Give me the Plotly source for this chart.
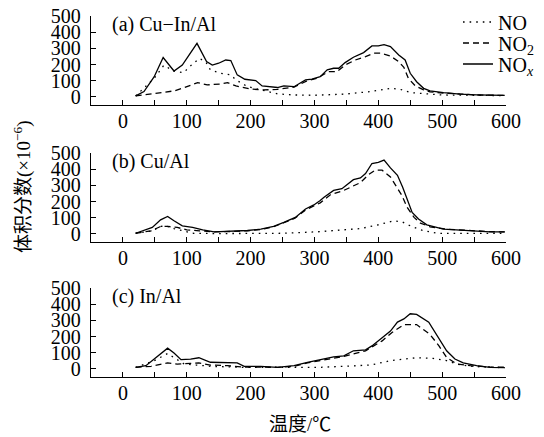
import plotly.graph_objects as go

# ---------------- data ----------------
# (a) Cu-In/Al
a_nox_t = [20, 33, 49, 63, 80, 93, 116, 131, 140, 150, 161, 169, 179, 191, 208, 218, 242, 252, 268, 286, 296, 309, 320, 330, 338, 348, 361, 377, 390, 400, 409, 419, 432, 442, 450, 460, 471, 481, 502, 528, 554, 598]
a_nox_v = [6, 33, 125, 243, 160, 197, 331, 218, 197, 208, 228, 225, 136, 109, 101, 68, 58, 68, 63, 105, 110, 125, 167, 177, 177, 212, 245, 274, 315, 315, 323, 311, 259, 228, 146, 94, 53, 37, 27, 17, 13, 10]
a_no2_t = [20, 44, 65, 80, 93, 117, 132, 153, 164, 177, 200, 221, 242, 268, 289, 304, 322, 335, 348, 364, 380, 393, 403, 419, 432, 440, 447, 458, 471, 481, 502, 528, 554, 598]
a_no2_v = [6, 19, 33, 37, 53, 88, 74, 80, 88, 68, 49, 43, 47, 60, 101, 115, 156, 156, 197, 228, 249, 270, 270, 253, 218, 183, 115, 68, 43, 31, 24, 16, 12, 9]
a_no_t = [20, 49, 64, 80, 95, 108, 120, 130, 137, 153, 169, 177, 195, 216, 242, 268, 299, 346, 388, 419, 434, 450, 471, 500, 550, 598]
a_no_v = [6, 115, 195, 160, 150, 200, 238, 215, 167, 146, 136, 105, 64, 43, 19, 12, 10, 17, 33, 53, 47, 27, 19, 12, 10, 8]

# (b) Cu/Al
b_nox_t = [20, 46, 59, 70, 80, 93, 109, 125, 143, 169, 195, 216, 236, 252, 270, 286, 299, 309, 315, 330, 343, 361, 372, 380, 390, 400, 409, 419, 430, 438, 445, 453, 463, 476, 502, 523, 544, 575, 598]
b_nox_v = [4, 40, 87, 108, 81, 50, 40, 25, 13, 17, 21, 29, 46, 71, 102, 154, 179, 206, 227, 269, 279, 335, 346, 373, 435, 442, 456, 408, 362, 290, 217, 133, 92, 56, 29, 25, 17, 13, 13]
b_no2_t = [20, 44, 59, 70, 85, 100, 120, 143, 169, 195, 216, 236, 252, 270, 286, 299, 309, 325, 346, 372, 385, 395, 406, 419, 427, 437, 445, 456, 466, 481, 507, 540, 575, 598]
b_no2_v = [4, 19, 46, 46, 40, 25, 19, 13, 15, 19, 27, 44, 69, 98, 148, 175, 192, 242, 269, 317, 367, 394, 394, 352, 300, 237, 165, 102, 67, 44, 29, 20, 14, 12]
b_no_t = [20, 46, 59, 67, 80, 93, 109, 150, 200, 250, 304, 346, 372, 398, 424, 437, 450, 466, 492, 530, 598]
b_no_v = [4, 19, 46, 50, 33, 19, 4, 2, 3, 4, 13, 25, 33, 54, 81, 75, 50, 25, 4, 3, 3]

# (c) In/Al
c_nox_t = [20, 36, 49, 70, 80, 91, 106, 119, 137, 158, 179, 190, 216, 242, 268, 289, 309, 330, 346, 361, 380, 390, 406, 419, 430, 440, 450, 460, 479, 495, 507, 520, 533, 554, 575, 598]
c_nox_v = [10, 20, 61, 128, 98, 57, 61, 69, 41, 37, 37, 16, 16, 10, 20, 41, 57, 75, 81, 112, 118, 142, 193, 234, 289, 309, 341, 337, 289, 183, 112, 61, 37, 20, 10, 8]
c_no2_t = [20, 44, 70, 85, 106, 119, 137, 164, 185, 216, 242, 268, 289, 309, 346, 380, 406, 421, 440, 460, 481, 495, 507, 523, 544, 575, 598]
c_no2_v = [10, 16, 37, 30, 34, 37, 24, 20, 12, 10, 10, 16, 37, 51, 77, 112, 173, 224, 274, 274, 213, 142, 71, 30, 20, 12, 10]
c_no_t = [20, 49, 70, 83, 96, 115, 137, 185, 250, 310, 346, 388, 419, 460, 486, 507, 523, 544, 575, 598]
c_no_v = [10, 51, 95, 61, 30, 24, 16, 10, 8, 10, 16, 24, 51, 69, 65, 51, 30, 16, 10, 8]

panel_labels = ["(a) Cu\u2212In/Al", "(b) Cu/Al", "(c) In/Al"]
series_names = ["NO", "NO<sub>2</sub>", "NO<sub><i>x</i></sub>"]
x_ticks = [0, 100, 200, 300, 400, 500, 600]
y_ticks = [0, 100, 200, 300, 400, 500]

panels = [
    [(a_no_t, a_no_v), (a_no2_t, a_no2_v), (a_nox_t, a_nox_v)],
    [(b_no_t, b_no_v), (b_no2_t, b_no2_v), (b_nox_t, b_nox_v)],
    [(c_no_t, c_no_v), (c_no2_t, c_no2_v), (c_nox_t, c_nox_v)],
]

SERIF = "Liberation Serif, Times New Roman, serif"
CJK = "Liberation Serif, Noto Sans CJK SC, serif"
dashes = ["1.6px,5px", "6px,4px", "solid"]
legend_ids = ["legend", "legend2", "legend3"]

fig = go.Figure()
for i, series in enumerate(panels):
    xa = "x" if i == 0 else f"x{i+1}"
    ya = "y" if i == 0 else f"y{i+1}"
    for j, (t, v) in enumerate(series):
        fig.add_trace(go.Scatter(
            x=t, y=v, mode="lines", name=series_names[j],
            line=dict(color="black", width=1.3, dash=dashes[j]),
            xaxis=xa, yaxis=ya, showlegend=(i == 0), legend=legend_ids[j],
            hoverinfo="skip"))

H = 437.0
W = 415.0
domains = [(16, 105), (153, 242), (288, 377)]
legend_rows = [22, 43, 64]

layout = dict(
    width=544, height=437,
    margin=dict(l=91, r=38, t=0, b=0, pad=0),
    paper_bgcolor="white", plot_bgcolor="white",
    font=dict(family=SERIF, color="black", size=20),
    annotations=[],
)
for j, lid in enumerate(legend_ids):
    layout[lid] = dict(
        x=(458 - 91) / W, y=1 - legend_rows[j] / H, xanchor="left", yanchor="middle",
        font=dict(family=SERIF, size=20, color="black"),
        bgcolor="rgba(0,0,0,0)", tracegroupgap=0, itemwidth=30,
        borderwidth=0)

for i, (top, bot) in enumerate(domains):
    sfx = "" if i == 0 else str(i + 1)
    ya = "y" if i == 0 else f"y{i+1}"
    xa = "x" if i == 0 else f"x{i+1}"
    layout["xaxis" + sfx] = dict(
        domain=[0, 1], anchor=ya, range=[-50, 600], automargin=False,
        tickmode="array", tickvals=x_ticks, ticks="inside", ticklen=5,
        tickwidth=1.2, tickcolor="black",
        minor=dict(ticks="inside", tickvals=[t + 50 for t in x_ticks[:-1]],
                   ticklen=5, tickwidth=1.2, tickcolor="black"),
        showline=True, linecolor="black", linewidth=1.4,
        showgrid=False, zeroline=False,
        tickfont=dict(family=SERIF, size=20, color="black"),
        ticklabelstandoff=-2)
    layout["yaxis" + sfx] = dict(
        domain=[1 - bot / H, 1 - top / H], anchor=xa, range=[-50, 500], automargin=False,
        tickmode="array", tickvals=y_ticks, ticks="inside", ticklen=5,
        tickwidth=1.2, tickcolor="black",
        showline=True, linecolor="black", linewidth=1.4,
        showgrid=False, zeroline=False,
        tickfont=dict(family=SERIF, size=20, color="black"),
        ticklabelstandoff=5)
    layout["annotations"].append(dict(
        text=panel_labels[i], xref="paper", yref=ya + " domain",
        x=(110 - 91) / W, y=0.9, xanchor="left", yanchor="middle",
        showarrow=False, font=dict(family=SERIF, size=20, color="black")))

layout["annotations"].append(dict(
    text="体积分数(×10<sup>−6</sup>)", xref="paper", yref="paper",
    x=(22 - 91) / W, y=1 - 187 / H, xanchor="center", yanchor="middle",
    textangle=-90, showarrow=False, font=dict(family=CJK, size=19, color="black")))
layout["annotations"].append(dict(
    text="温度/℃", xref="paper", yref="paper",
    x=(300 - 91) / W, y=1 - 424 / H, xanchor="center", yanchor="middle",
    showarrow=False, font=dict(family=CJK, size=19, color="black")))

fig.update_layout(**layout)
fig.write_html("out.html", config={"displayModeBar": False},
               post_script="document.body.style.margin='0';document.body.style.padding='0';")
